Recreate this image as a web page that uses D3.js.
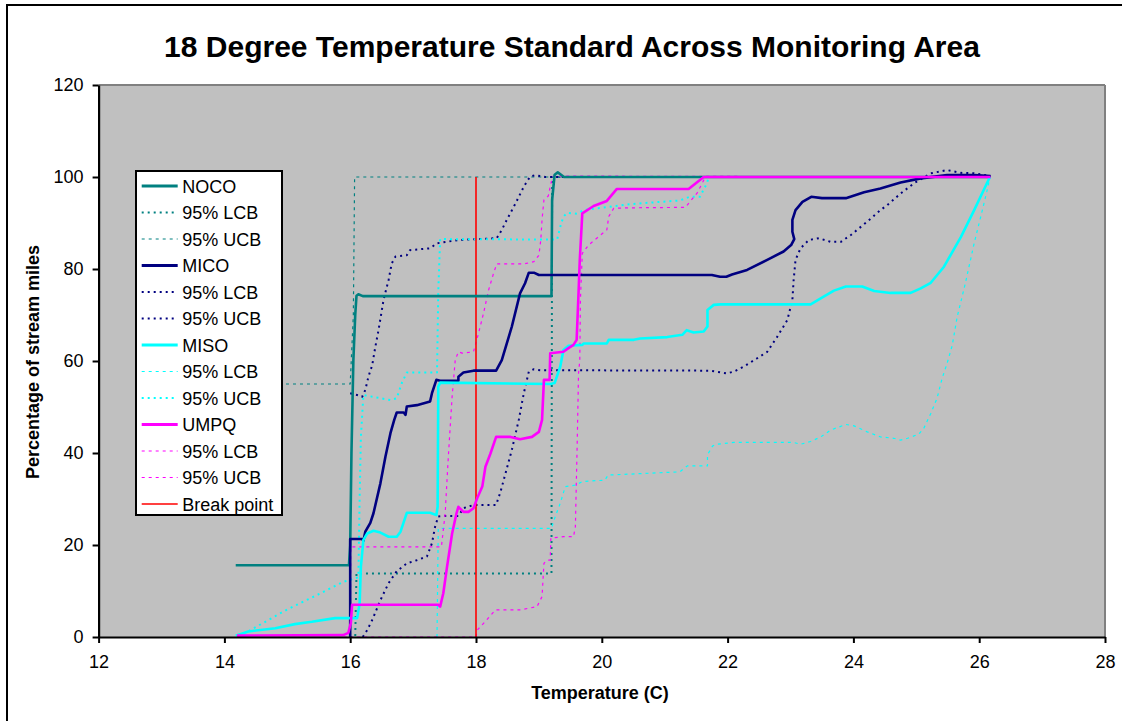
<!DOCTYPE html>
<html><head><meta charset="utf-8">
<script src="https://cdn.jsdelivr.net/npm/d3@7"></script>
<style>body{margin:0;background:#fff;} svg{display:block;font-family:"Liberation Sans",Arial,sans-serif;}</style>
</head><body>
<svg id="c" width="1122" height="721"></svg>
<script>
const xTicks = [12,14,16,18,20,22,24,26,28];
const yTicks = [0,20,40,60,80,100,120];

const nocoMain = [[14.18,15.6],[15.98,15.6],[16.0,20],[16.02,40],[16.05,60],[16.08,70],[16.1,74.2],[16.13,74.5],[16.2,74.1],[19.2,74.1],[19.21,95],[19.25,100.5],[19.3,101],[19.4,100],[26.18,100]];
const nocoLCB = [[16.0,0],[16.08,0],[16.1,13.8],[19.2,13.8],[19.21,100],[26.18,100]];
const nocoUCB = [[14.2,55],[16.0,55],[16.05,70],[16.07,100],[26.18,100]];

const micoMain = [[16.0,0],[16.0,21.3],[16.19,21.3],[16.21,20.9],[16.24,22.9],[16.32,24.8],[16.37,26.9],[16.48,33.4],[16.56,39.2],[16.64,44.3],[16.70,47.2],[16.74,48.8],[16.85,48.8],[16.88,48.3],[16.90,50.1],[17.06,50.4],[17.27,51.2],[17.30,53.0],[17.37,55.9],[17.43,55.7],[17.72,55.7],[17.72,56.6],[17.80,57.5],[17.96,57.9],[18.32,57.9],[18.41,60.2],[18.57,67.5],[18.70,74.7],[18.78,76.9],[18.84,79.2],[18.92,79.2],[19.0,78.7],[21.75,78.7],[21.88,78.3],[21.98,78.3],[22.07,78.8],[22.31,79.8],[22.63,82.0],[22.89,83.8],[23.01,85.2],[23.06,86.5],[23.03,88.1],[23.03,90.7],[23.08,92.8],[23.19,94.6],[23.33,95.7],[23.50,95.4],[23.88,95.4],[24.17,96.7],[24.43,97.5],[24.75,98.8],[25.07,99.7],[25.49,100.4],[25.92,100.4],[26.18,100.2]];
const micoLCB = [[16.2,0],[16.27,1.5],[16.35,3.7],[16.48,8],[16.61,11.7],[16.74,14.3],[16.90,16],[17.06,16.7],[17.22,17.5],[17.30,20.4],[17.35,24],[17.40,26.2],[17.48,26.3],[17.72,26.3],[17.80,28],[17.96,28.7],[18.32,28.7],[18.39,31.6],[18.47,35.6],[18.57,40.7],[18.68,47.2],[18.76,53],[18.84,57.7],[18.92,58.2],[19.02,58],[21.72,57.9],[21.99,57.3],[22.10,57.7],[22.26,58.8],[22.47,60.6],[22.63,62],[22.79,65.3],[22.95,68.9],[23.03,73.3],[23.05,77.6],[23.08,82],[23.16,84.5],[23.29,86.3],[23.45,86.7],[23.64,85.9],[23.80,85.9],[23.96,87.4],[24.22,90.3],[24.43,92.8],[24.54,93.9],[24.75,96.4],[24.96,98.6],[25.23,100.8],[25.49,101.5],[25.71,100.9],[25.92,100.8],[26.18,100.2]];
const micoUCB = [[16.0,53],[16.11,52.6],[16.19,52.2],[16.24,53.7],[16.29,56.6],[16.35,59.1],[16.40,63.1],[16.45,66.7],[16.53,73.3],[16.61,77.6],[16.66,81.2],[16.72,82.7],[16.90,83.0],[16.95,84.1],[17.27,84.5],[17.38,85.6],[17.72,86.3],[18.33,86.7],[18.41,88.5],[18.49,90.7],[18.63,94.3],[18.76,97.9],[18.86,100.1],[18.94,100.4],[19.1,100],[26.18,100]];

const misoMain = [[14.18,0.3],[14.38,1.2],[14.81,1.9],[15.12,2.8],[15.39,3.3],[15.76,4.1],[16.11,4.1],[16.15,7.3],[16.17,15.3],[16.21,21.1],[16.27,22.5],[16.37,23.1],[16.48,22.7],[16.61,21.8],[16.74,21.8],[16.80,22.9],[16.90,27.0],[17.27,27.0],[17.37,26.5],[17.39,28.3],[17.40,54.4],[17.43,55.3],[19.18,55.0],[19.25,55.2],[19.34,58.8],[19.39,62.4],[19.47,63.3],[19.69,63.5],[19.71,63.8],[20.08,63.8],[20.11,64.6],[20.51,64.6],[20.61,64.9],[21.04,65.2],[21.28,65.7],[21.35,66.7],[21.46,66.2],[21.62,66.4],[21.68,67.5],[21.68,71.1],[21.78,72.2],[21.89,72.3],[23.32,72.3],[23.48,73.6],[23.69,75.3],[23.88,76.2],[24.14,76.2],[24.33,75.2],[24.59,74.8],[24.91,74.8],[25.07,75.8],[25.23,77.0],[25.44,80.5],[25.71,87.0],[25.92,92.8],[26.17,100]];
const misoLCB = [[17.38,0],[17.4,23.6],[19.2,23.6],[19.24,25.4],[19.34,29.1],[19.42,32.7],[19.58,33.0],[19.69,33.8],[20.05,34.1],[20.10,35.2],[21.24,35.9],[21.36,37.2],[21.68,37.2],[21.68,39.6],[21.76,41.5],[21.82,41.9],[22.10,42.3],[23.05,42.3],[23.16,41.9],[23.32,42.5],[23.48,43.5],[23.64,45],[23.88,46.2],[24.01,45.9],[24.22,44.6],[24.43,43.5],[24.64,43.2],[24.75,42.8],[24.86,43.2],[25.04,44.1],[25.12,45.4],[25.23,48.6],[25.33,51.9],[25.41,56.2],[25.49,59.5],[25.57,63.3],[25.65,69.6],[25.78,76.9],[25.92,85.6],[26.05,92.8],[26.14,97.9],[26.17,100]];
const misoUCB = [[14.22,0],[15.0,6],[15.5,9.3],[15.89,12],[16.13,13],[16.15,30],[16.17,43.5],[16.21,52.6],[16.64,51.5],[16.74,51.9],[16.82,55.2],[16.90,57.5],[17.38,57.5],[17.40,75],[17.43,86.5],[19.29,86.4],[19.34,89.2],[19.39,91.4],[19.45,92.2],[19.61,92],[19.71,92.8],[20.45,94.1],[21.24,94.9],[21.40,95.7],[21.56,95.7],[21.67,98.6],[21.70,100],[26.18,100]];

const umpqMain = [[14.2,0.3],[15.89,0.4],[15.97,0.9],[16.01,3],[16.03,7],[17.40,7],[17.43,6.6],[17.48,9.5],[17.54,15.3],[17.62,22.5],[17.69,26.9],[17.72,28.3],[17.80,27.2],[17.88,27.2],[17.96,28.0],[18.02,30.2],[18.10,32.7],[18.15,37.0],[18.23,39.9],[18.32,43.5],[18.55,43.5],[18.70,43.0],[18.89,43.5],[19.0,44.6],[19.05,47.2],[19.08,55.9],[19.17,55.9],[19.18,61.7],[19.39,62.0],[19.47,62.8],[19.55,63.5],[19.60,64.6],[19.63,74.7],[19.65,82],[19.69,92.1],[19.87,93.7],[20.08,94.8],[20.16,96.1],[20.24,97.4],[21.38,97.4],[21.62,100],[26.18,100]];
const umpqLCB = [[16.0,0],[18.0,0],[18.02,1.5],[18.17,3.7],[18.31,5.9],[18.70,5.9],[18.97,6.6],[19.05,8.8],[19.08,16],[19.13,16.7],[19.18,16.7],[19.19,21.5],[19.39,21.8],[19.55,21.8],[19.58,24],[19.61,42.8],[19.63,57.3],[19.65,60.2],[19.66,73.3],[19.69,83.4],[19.79,85.2],[19.92,86.7],[20.08,88.5],[20.11,91.4],[20.19,93.2],[20.45,93.3],[21.33,93.4],[21.40,94.6],[21.52,96.6],[21.62,99.3],[21.65,100],[26.18,100]];
const umpqUCB = [[15.9,0],[16.0,0],[16.01,19.6],[17.45,19.6],[17.51,26.9],[17.56,39.2],[17.62,52.2],[17.67,60.2],[17.72,62],[17.78,61.7],[17.96,62],[17.99,63.5],[18.04,66],[18.12,70.4],[18.20,75.4],[18.28,79.1],[18.33,81.1],[18.76,81.1],[18.92,81.6],[19.0,83.0],[19.03,86.3],[19.05,90.7],[19.08,95.0],[19.15,95.9],[19.18,97.9],[19.21,99.7],[19.23,100.2],[26.18,100]];

const breakPoint = [[18,0],[18,100]];

const seriesNames = ["NOCO","95% LCB","95% UCB","MICO","95% LCB","95% UCB","MISO","95% LCB","95% UCB","UMPQ","95% LCB","95% UCB","Break point"];
const seriesData = [nocoMain,nocoLCB,nocoUCB,micoMain,micoLCB,micoUCB,misoMain,misoLCB,misoUCB,umpqMain,umpqLCB,umpqUCB,breakPoint];

const TEAL="#008080", NAVY="#000080", CYAN="#00FFFF", MAG="#FF00FF", RED="#FF0000";
const SOLID={w:2.6,d:null}, HEAVY={w:2,d:"2,4"}, THIN={w:1.2,d:"3,4"};
const styles = [
  {c:TEAL,...SOLID},{c:TEAL,...HEAVY},{c:TEAL,...THIN},
  {c:NAVY,...SOLID},{c:NAVY,...HEAVY},{c:NAVY,...HEAVY},
  {c:CYAN,...SOLID},{c:CYAN,...THIN},{c:CYAN,...HEAVY},
  {c:MAG,...SOLID},{c:MAG,...THIN},{c:MAG,...THIN},
  {c:RED,w:1.6,d:null}
];
const drawOrder=[2,1,5,4,8,7,11,10,12,0,3,6,9];

const svg=d3.select("#c");
const L=98.6,R=1105,T=85,B=637;
const x=d3.scaleLinear().domain([12,28]).range([L,R]);
const y=d3.scaleLinear().domain([0,120]).range([B,T]);

svg.append("rect").attr("x",7).attr("y",5).attr("width",1140).attr("height",740).attr("fill","#fff").attr("stroke","#000").attr("stroke-width",2);

svg.append("text").attr("x",572).attr("y",57).attr("text-anchor","middle").attr("font-size",30).attr("font-weight","bold").text("18 Degree Temperature Standard Across Monitoring Area");

svg.append("rect").attr("x",L).attr("y",T).attr("width",R-L).attr("height",B-T).attr("fill","#C0C0C0");
svg.append("line").attr("x1",L).attr("x2",R).attr("y1",T).attr("y2",T).attr("stroke","#808080").attr("stroke-width",2);
svg.append("line").attr("x1",R).attr("x2",R).attr("y1",T).attr("y2",B).attr("stroke","#808080").attr("stroke-width",2);

const clip=svg.append("defs").append("clipPath").attr("id","pc");
clip.append("rect").attr("x",L).attr("y",T-10).attr("width",R-L).attr("height",B-T+10);

const line=d3.line().x(d=>x(d[0])).y(d=>y(d[1]));
const g=svg.append("g").attr("clip-path","url(#pc)");
drawOrder.forEach(i=>{
  const s=styles[i];
  g.append("path").datum(seriesData[i]).attr("d",line).attr("fill","none")
   .attr("stroke",s.c).attr("stroke-width",s.w).attr("stroke-dasharray",s.d)
   .attr("stroke-linejoin","round");
});

const ax=svg.append("g").attr("transform",`translate(0,${B})`)
  .call(d3.axisBottom(x).tickValues(xTicks).tickSize(6).tickPadding(12).tickSizeOuter(0));
const ay=svg.append("g").attr("transform",`translate(${L},0)`)
  .call(d3.axisLeft(y).tickValues(yTicks).tickSize(6).tickPadding(9).tickSizeOuter(0));
[ax,ay].forEach(a=>{
  a.select(".domain").attr("stroke","#000").attr("stroke-width",2.2);
  a.selectAll(".tick line").attr("stroke","#000").attr("stroke-width",2);
  a.selectAll(".tick text").attr("font-size",18).attr("font-family","Liberation Sans, Arial, sans-serif").attr("fill","#000");
});

svg.append("text").attr("x",600).attr("y",699).attr("text-anchor","middle").attr("font-size",18).attr("font-weight","bold").text("Temperature (C)");
svg.append("text").attr("transform","translate(39,362) rotate(-90)").attr("text-anchor","middle").attr("font-size",18).attr("font-weight","bold").text("Percentage of stream miles");

const lg=svg.append("g");
lg.append("rect").attr("x",136).attr("y",171).attr("width",146).attr("height",344).attr("fill","#fff").attr("stroke","#000").attr("stroke-width",2);
seriesNames.forEach((n,i)=>{
  const cy=186+i*26.5, s=styles[i];
  lg.append("line").attr("x1",141.7).attr("x2",177.7).attr("y1",cy).attr("y2",cy)
    .attr("stroke",s.c).attr("stroke-width",s.w===2.6?3:s.w).attr("stroke-dasharray",s.d);
  lg.append("text").attr("x",182.3).attr("y",cy+6.5).attr("font-size",18).text(n);
});
</script>
</body></html>
